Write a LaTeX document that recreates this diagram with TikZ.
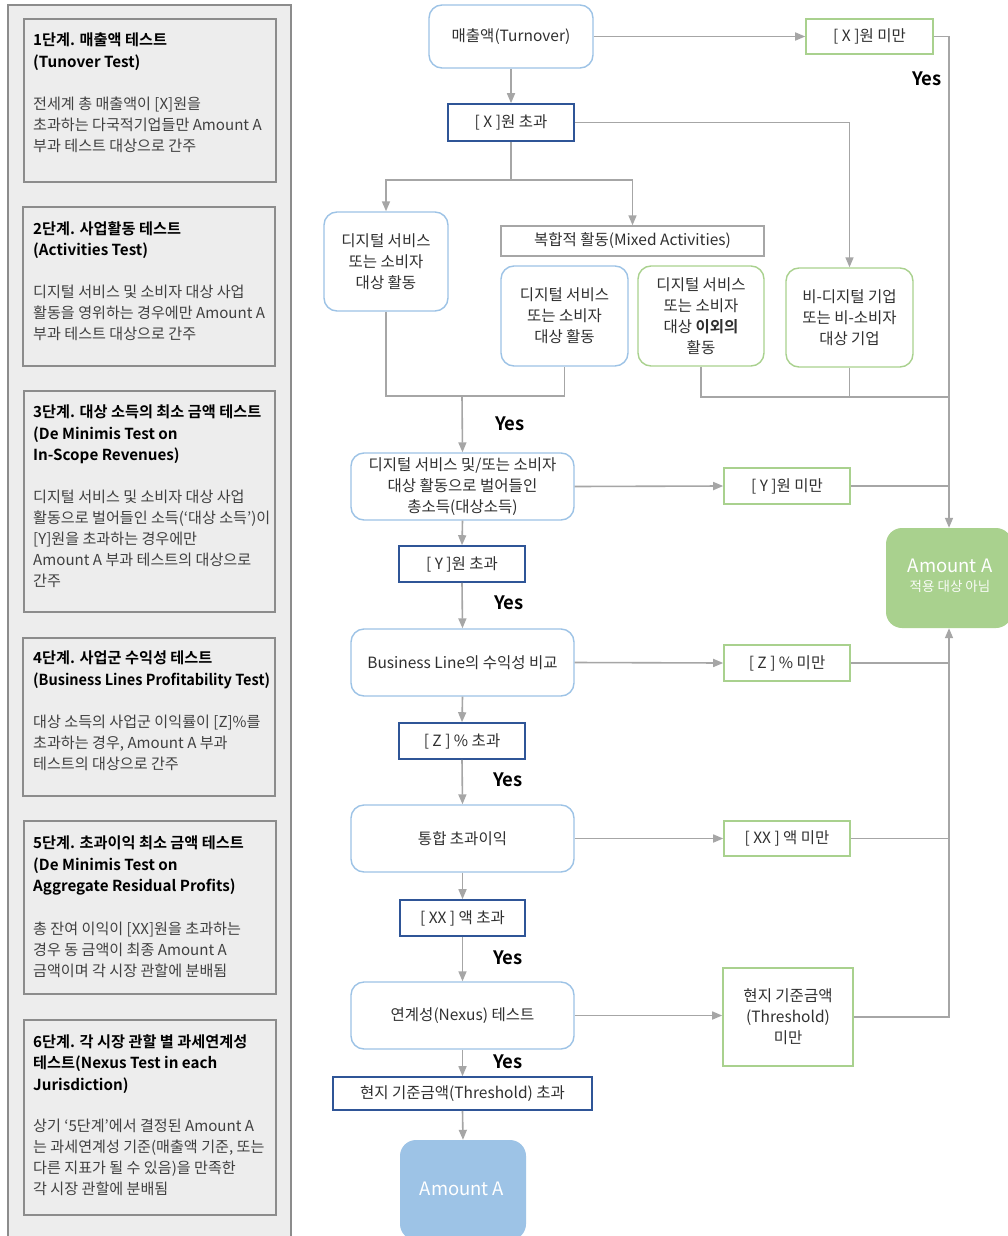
\documentclass[tikz,border=0pt]{standalone}
\usepackage{fontspec}
\setmainfont{Noto Sans CJK KR}[BoldFont={* Bold}]
\usetikzlibrary{arrows.meta,calc}

\definecolor{panelbg}{HTML}{EDEDED}
\definecolor{panelline}{HTML}{8C8C8C}
\definecolor{conn}{HTML}{A6A6A6}
\definecolor{softblue}{HTML}{9DC3E6}
\definecolor{softgreen}{HTML}{A9D18E}
\definecolor{deepblue}{HTML}{2F5597}
\definecolor{bodytext}{HTML}{404040}
\definecolor{nodetext}{HTML}{303030}

\newcommand\myflow{\fontsize{15.5pt}{21pt}\selectfont}
\newcommand\mytitle{\fontsize{15.2pt}{21.5pt}\selectfont\bfseries}
\newcommand\mybody{\fontsize{15.1pt}{21pt}\selectfont}
\newcommand\myyes{\fontsize{18.5pt}{20pt}\selectfont\bfseries}

\begin{document}
\begin{tikzpicture}[x=1pt,y=-1pt,
  wire/.style={draw=conn, line width=1.6pt},
  arr/.style={wire, -{Triangle[length=10pt,width=8pt]}},
  soft/.style={draw=softblue, line width=1.4pt, rounded corners=13pt, fill=white,
    align=center, text=nodetext, font=\myflow, inner sep=0pt},
  softg/.style={soft, draw=softgreen},
  limitbox/.style={draw=deepblue, line width=1.6pt, fill=white, align=center,
    text=nodetext, font=\myflow, inner sep=0pt},
  underbox/.style={limitbox, draw=softgreen},
  mixedbox/.style={limitbox, draw=conn, line width=1.4pt},
  endbox/.style={rounded corners=16pt, inner sep=0pt, align=center, text=white},
  endtext/.style={inner sep=0pt, text=white, font=\fontsize{18.5pt}{20pt}\selectfont},
  yeslabel/.style={font=\myyes, text=black, inner sep=0pt},
  panel/.style={fill=panelbg, draw=panelline, line width=1.4pt},
  steptitle/.style={anchor=north west, inner sep=0pt, align=left, font=\mytitle, text=black},
  stepbody/.style={anchor=north west, inner sep=0pt, align=left, font=\mybody, text=bodytext},
]
\useasboundingbox (0,0) rectangle (1008,1236);
\clip (0,0) rectangle (1008,1236);
\fill[white] (0,0) rectangle (1008,1236);

% ---------- left column: the six steps ----------
\draw[panel] (8,5) rectangle (291,1260);
\draw[panel] (24,19) rectangle (276,182);
\draw[panel] (23,207) rectangle (275,366);
\draw[panel] (24,391) rectangle (275,612);
\draw[panel] (23,638) rectangle (275,796);
\draw[panel] (24,821) rectangle (276,994);
\draw[panel] (24,1020) rectangle (276,1215);

\node[steptitle] (t1) at (33,33) {1단계. 매출액 테스트\\(Tunover Test)};
\node[stepbody] (b1) at (33,96.5) {전세계 총 매출액이 [X]원을\\초과하는 다국적기업들만 Amount A\\부과 테스트 대상으로 간주};

\node[steptitle] (t2) at (33,221) {2단계. 사업활동 테스트\\(Activities Test)};
\node[stepbody] (b2) at (33,284.5) {디지털 서비스 및 소비자 대상 사업\\활동을 영위하는 경우에만 Amount A\\부과 테스트 대상으로 간주};

\node[steptitle] (t3) at (33,405) {3단계. 대상 소득의 최소 금액 테스트\\(De Minimis Test on\\In-Scope Revenues)};
\node[stepbody] (b3) at (33,489.5) {디지털 서비스 및 소비자 대상 사업\\활동으로 벌어들인 소득(‘대상 소득’)이\\{}[Y]원을 초과하는 경우에만\\Amount A 부과 테스트의 대상으로\\간주};

\node[steptitle] (t4) at (33,651) {4단계. 사업군 수익성 테스트\\\scalebox{0.955}[1]{(Business Lines Profitability Test)}};
\node[stepbody] (b4) at (33,714.5) {대상 소득의 사업군 이익률이 [Z]\%를\\초과하는 경우, Amount A 부과\\테스트의 대상으로 간주};

\node[steptitle] (t5) at (33,836) {5단계. 초과이익 최소 금액 테스트\\(De Minimis Test on\\Aggregate Residual Profits)};
\node[stepbody] (b5) at (33,921.5) {총 잔여 이익이 [XX]원을 초과하는\\경우 동 금액이 최종 Amount A\\금액이며 각 시장 관할에 분배됨};

\node[steptitle] (t6) at (33,1034) {6단계. 각 시장 관할 별 과세연계성\\테스트(Nexus Test in each\\Jurisdiction)};
\node[stepbody] (b6) at (33,1118.5) {상기 ‘5단계’에서 결정된 Amount A\\는 과세연계성 기준(매출액 기준, 또는\\다른 지표가 될 수 있음)을 만족한\\각 시장 관할에 분배됨};

% ---------- flow chart ----------
\node[soft, minimum width=164pt, minimum height=63pt] (turn) at (511,36.5) {매출액(Turnover)};
\node[underbox, minimum width=127pt, minimum height=35pt] (xless) at (869.5,36.5) {[ X ]원 미만};
\node[limitbox, minimum width=126pt, minimum height=37pt] (xmore) at (511,122.5) {[ X ]원 초과};

\node[soft, minimum width=124pt, minimum height=99pt] (dig1) at (386,261.5) {디지털 서비스\\또는 소비자\\대상 활동};
\node[mixedbox, minimum width=263pt, minimum height=30pt] (mixed) at (632.5,241) {복합적 활동(Mixed Activities)};
\node[soft, minimum width=127pt, minimum height=100pt] (dig2) at (564.5,316) {디지털 서비스\\또는 소비자\\대상 활동};
\node[softg, minimum width=126pt, minimum height=100pt] (other) at (701,316) {디지털 서비스\\또는 소비자\\대상 \textbf{이외의}\\활동};
\node[softg, minimum width=127pt, minimum height=99pt] (nondig) at (849.5,317.5) {비-디지털 기업\\또는 비-소비자\\대상 기업};

\node[soft, minimum width=223pt, minimum height=67pt] (income) at (462.5,486.5) {디지털 서비스 및/또는 소비자\\대상 활동으로 벌어들인\\총소득(대상소득)};
\node[underbox, minimum width=126pt, minimum height=36pt] (yless) at (787,486) {[ Y ]원 미만};
\node[limitbox, minimum width=126pt, minimum height=36pt] (ymore) at (462,564) {[ Y ]원 초과};

\node[soft, minimum width=223pt, minimum height=67pt] (bline) at (462.5,662.5) {Business Line의 수익성 비교};
\node[underbox, minimum width=126pt, minimum height=36pt] (zless) at (787,663) {[ Z ] \% 미만};
\node[limitbox, minimum width=126pt, minimum height=36pt] (zmore) at (462,741) {[ Z ] \% 초과};

\node[soft, minimum width=223pt, minimum height=67pt] (excess) at (462.5,838.5) {통합 초과이익};
\node[underbox, minimum width=126pt, minimum height=35pt] (xxless) at (787,838.5) {[ XX ] 액 미만};
\node[limitbox, minimum width=125pt, minimum height=36pt] (xxmore) at (462.5,918) {[ XX ] 액 초과};

\node[soft, minimum width=223pt, minimum height=67pt] (nexus) at (462.5,1015.5) {연계성(Nexus) 테스트};
\node[underbox, minimum width=130pt, minimum height=98pt] (thless) at (788,1017) {현지 기준금액\\(Threshold)\\미만};
\node[limitbox, minimum width=259pt, minimum height=33pt] (thmore) at (462.5,1093.5) {현지 기준금액(Threshold) 초과};

% end results
\node[endbox, fill=softblue, minimum width=126pt, minimum height=100pt] (amt) at (463,1190) {};
\node[endtext] (amtlabel) at (462,1189) {Amount A};
\node[endbox, fill=softgreen, minimum width=126pt, minimum height=100pt] (nota) at (949,578) {};
\node[endtext] (notalabel) at (950,566) {Amount A};
\node[endtext, text=white!93!softgreen, font=\fontsize{13.5pt}{16pt}\selectfont] (notasub) at (950,586) {적용 대상 아님};

% Yes labels
\node[yeslabel] (y0) at (927,79) {Yes};
\node[yeslabel] (y1) at (510,424) {Yes};
\node[yeslabel] (y2) at (509,603) {Yes};
\node[yeslabel] (y3) at (508,780) {Yes};
\node[yeslabel] (y4) at (508,958) {Yes};
\node[yeslabel] (y5) at (508,1062) {Yes};

% junction points
\coordinate (split) at (511,180);
\coordinate (join) at (462,396);
\coordinate (rjoin) at (949,397);

% ---------- connectors ----------
\draw[arr] (turn.east) -- (xless.west);
\draw[arr] (xless.east) -| (nota.north);
\draw[arr] (turn.south) -- (xmore.north);
\draw[arr] (xmore.east) -| (nondig.north);
\draw[wire] (xmore.south) -- (split);
\draw[arr] (split) -| (dig1.north);
\draw[arr] (split) -| (mixed.north);

\draw[wire] (dig1.south) |- (dig2.south |- join) -- (dig2.south);
\draw[arr] (join) -- (income.north);
\draw[wire] (other.south) |- (rjoin);
\draw[wire] (nondig.south) -- (nondig.south |- rjoin);

\draw[arr] (income.east) -- (yless.west);
\draw[wire] (yless.east) -- (yless.east -| nota.north);
\draw[arr] (income.south) -- (ymore.north);
\draw[arr] (ymore.south) -- (bline.north);

\draw[arr] (bline.east) -- (zless.west);
\draw[wire] (zless.east) -- (zless.east -| nota.south);
\draw[arr] (bline.south) -- (zmore.north);
\draw[arr] (zmore.south) -- (excess.north);

\draw[arr] (excess.east) -- (xxless.west);
\draw[wire] (xxless.east) -- (xxless.east -| nota.south);
\draw[arr] (excess.south) -- (xxmore.north);
\draw[arr] (xxmore.south) -- (nexus.north);

\draw[arr] (nexus.east) -- (nexus.east -| thless.west);
\draw[arr] (thless.east) -| (nota.south);
\draw[arr] (nexus.south) -- (thmore.north);
\draw[arr] (thmore.south) -- (amt.north);
\end{tikzpicture}
\end{document}
